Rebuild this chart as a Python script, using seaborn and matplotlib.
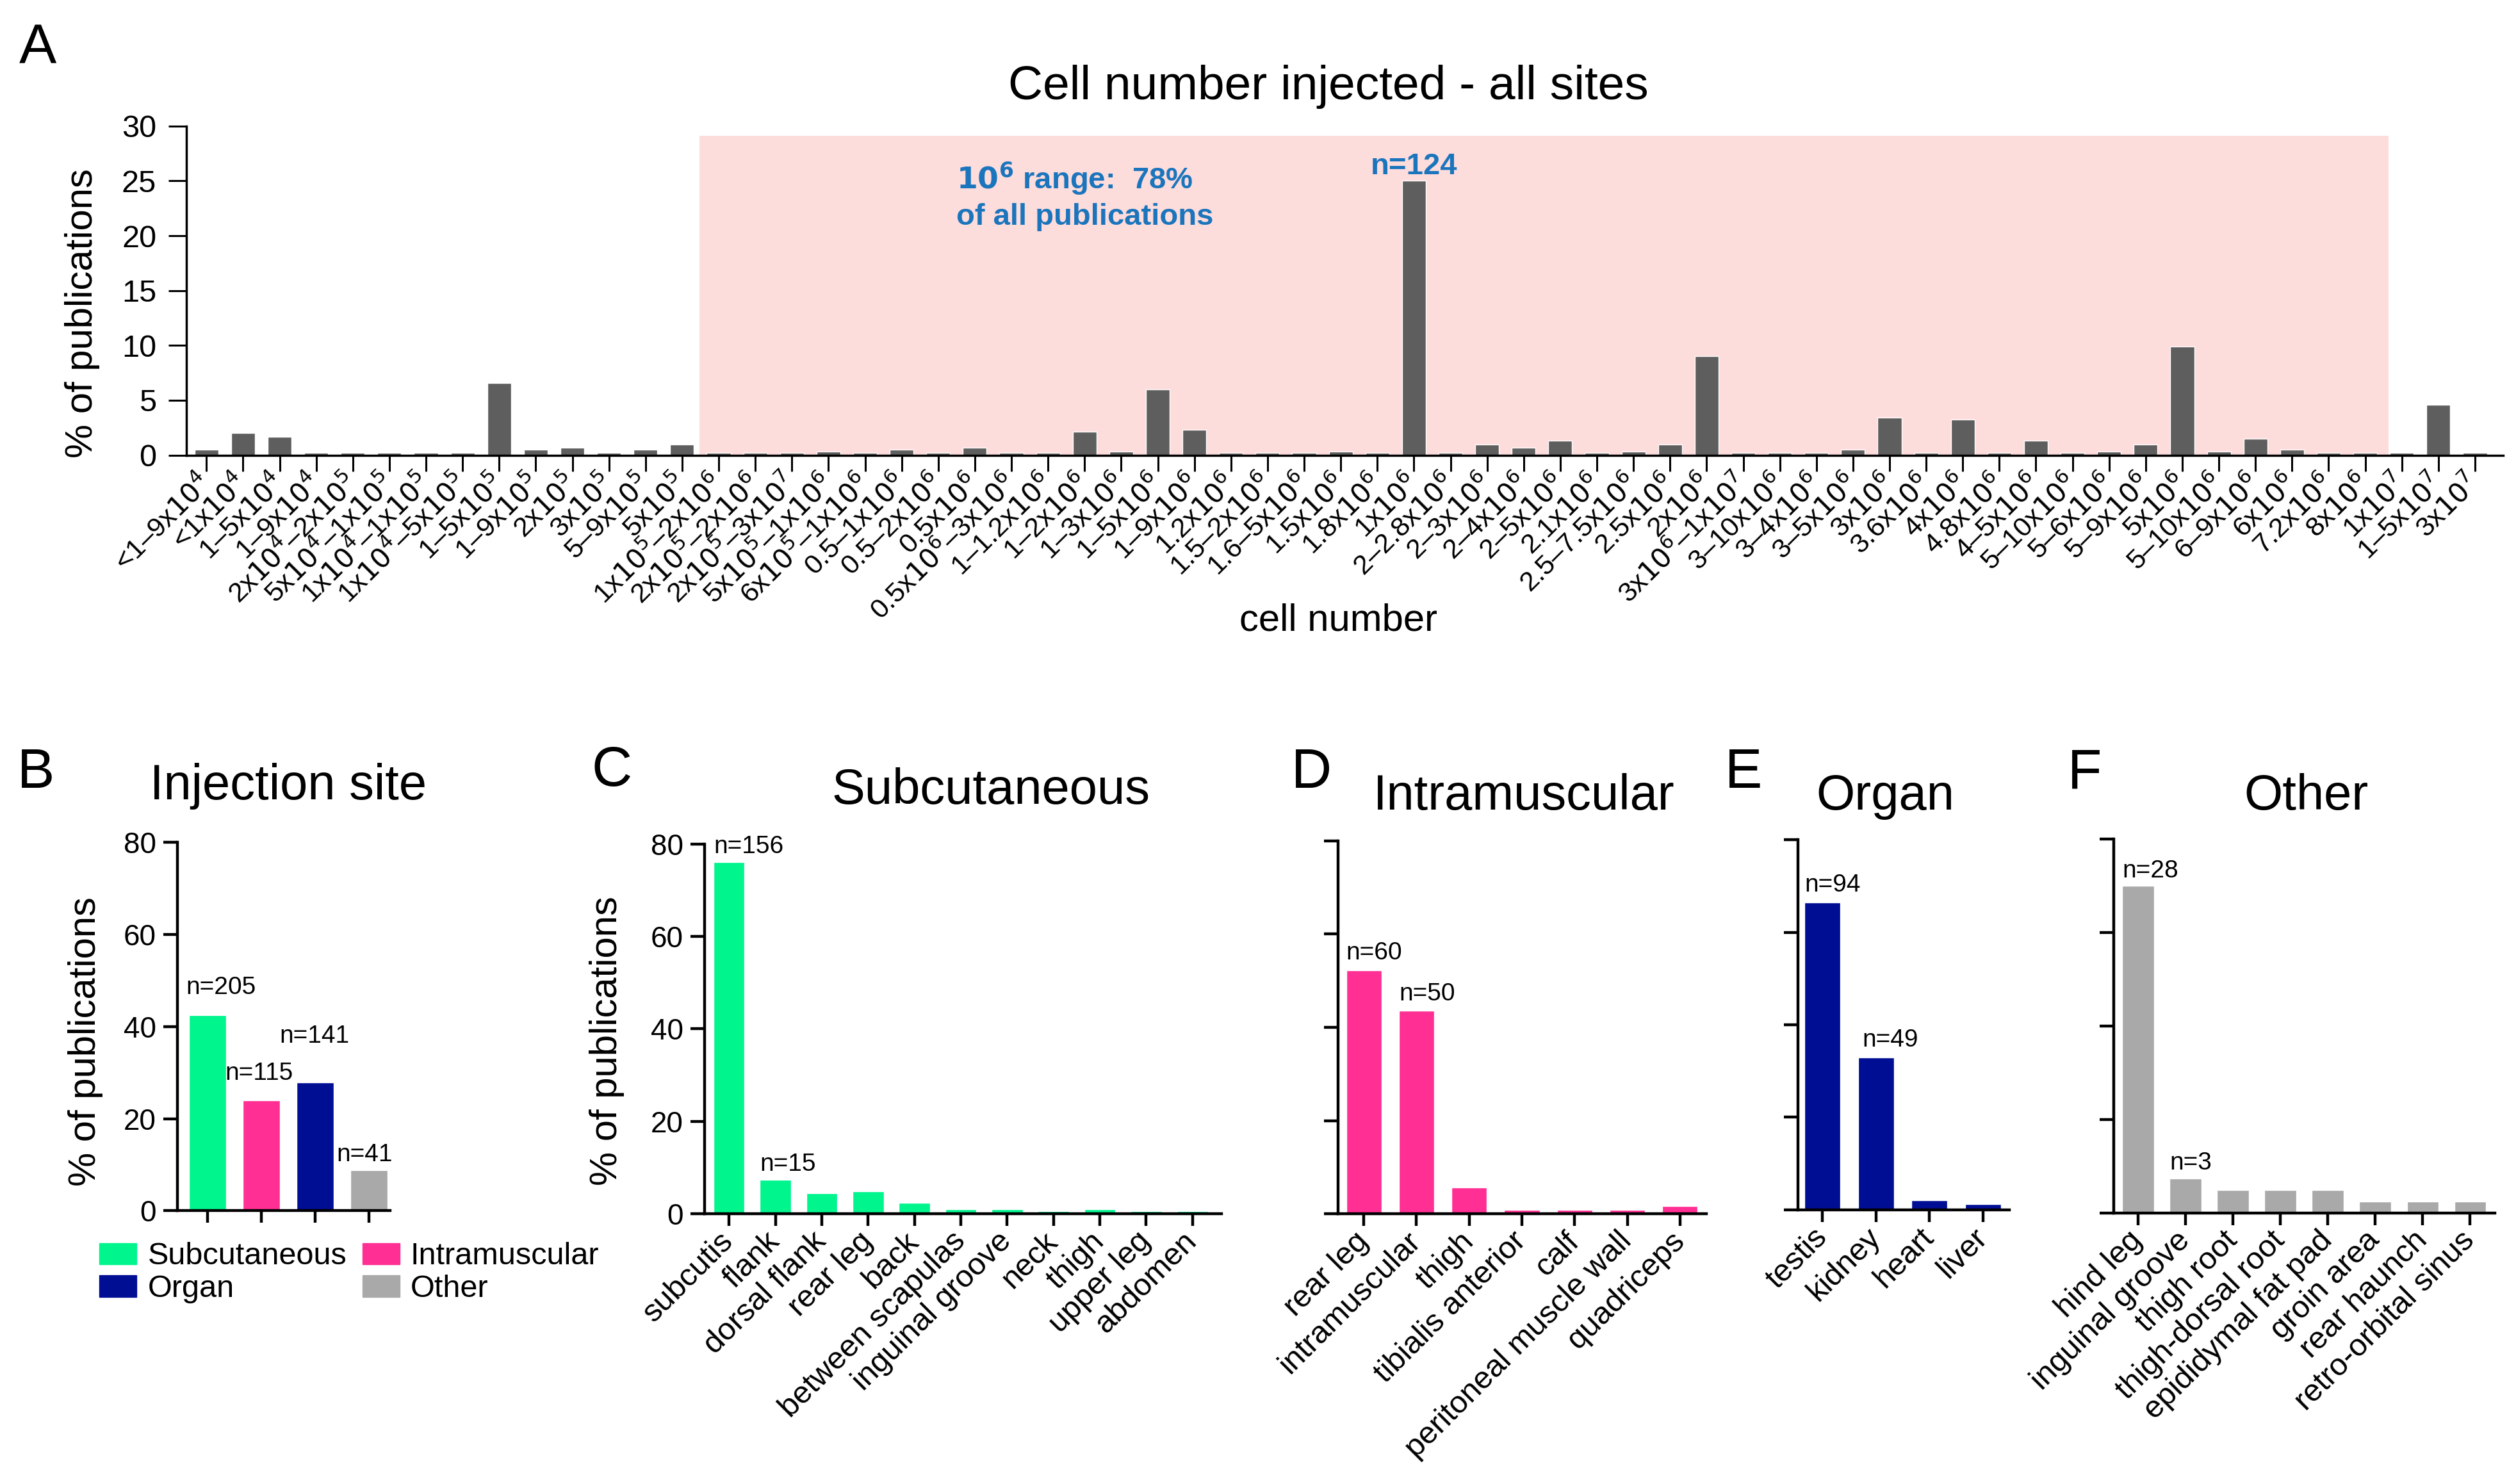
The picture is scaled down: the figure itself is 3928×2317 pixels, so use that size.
import seaborn as sns
import matplotlib.pyplot as plt
from matplotlib.patches import Patch
import numpy as np

# ---------------- data ----------------
cell_labels = [
    '<1–9x$10^{4}$', '<1x$10^{4}$', '1–5x$10^{4}$', '1–9x$10^{4}$',
    '2x$10^{4}$–2x$10^{5}$', '5x$10^{4}$–1x$10^{5}$', '1x$10^{4}$–1x$10^{5}$', '1x$10^{4}$–5x$10^{5}$',
    '1–5x$10^{5}$', '1–9x$10^{5}$', '2x$10^{5}$', '3x$10^{5}$', '5–9x$10^{5}$', '5x$10^{5}$',
    '1x$10^{5}$–2x$10^{6}$', '2x$10^{5}$–2x$10^{6}$', '2x$10^{5}$–3x$10^{7}$', '5x$10^{5}$–1x$10^{6}$',
    '6x$10^{5}$–1x$10^{6}$',
    '0.5–1x$10^{6}$', '0.5–2x$10^{6}$', '0.5x$10^{6}$', '0.5x$10^{6}$–3x$10^{6}$',
    '1–1.2x$10^{6}$', '1–2x$10^{6}$', '1–3x$10^{6}$', '1–5x$10^{6}$', '1–9x$10^{6}$', '1.2x$10^{6}$',
    '1.5–2x$10^{6}$', '1.6–5x$10^{6}$', '1.5x$10^{6}$', '1.8x$10^{6}$', '1x$10^{6}$',
    '2–2.8x$10^{6}$', '2–3x$10^{6}$', '2–4x$10^{6}$', '2–5x$10^{6}$', '2.1x$10^{6}$', '2.5–7.5x$10^{6}$',
    '2.5x$10^{6}$', '2x$10^{6}$',
    '3x$10^{6}$–1x$10^{7}$', '3–10x$10^{6}$', '3–4x$10^{6}$', '3–5x$10^{6}$', '3x$10^{6}$', '3.6x$10^{6}$',
    '4x$10^{6}$', '4.8x$10^{6}$', '4–5x$10^{6}$',
    '5–10x$10^{6}$', '5–6x$10^{6}$', '5–9x$10^{6}$', '5x$10^{6}$', '5–10x$10^{6}$', '6–9x$10^{6}$',
    '6x$10^{6}$', '7.2x$10^{6}$', '8x$10^{6}$',
    '1x$10^{7}$', '1–5x$10^{7}$', '3x$10^{7}$']
cell_pct = [
    0.5, 2.0, 1.7, 0.2,
    0.2, 0.2, 0.2, 0.2,
    6.6, 0.5, 0.7, 0.2, 0.5, 0.95,
    0.2, 0.2, 0.2, 0.35,
    0.2,
    0.5, 0.2, 0.7, 0.2,
    0.2, 2.15, 0.35, 6.0, 2.3, 0.2,
    0.2, 0.2, 0.35, 0.2, 25.0,
    0.2, 0.95, 0.7, 1.3, 0.2, 0.35,
    0.95, 9.0,
    0.2, 0.2, 0.2, 0.5, 3.4, 0.2,
    3.25, 0.2, 1.3,
    0.2, 0.35, 0.95, 9.9, 0.35, 1.5,
    0.5, 0.2, 0.2,
    0.2, 4.6, 0.2]

site_labels = ['Subcutaneous', 'Intramuscular', 'Organ', 'Other']
site_pct = [42.5, 24.0, 27.9, 8.8]
site_n = ['n=205', 'n=115', 'n=141', 'n=41']

subq_labels = ['subcutis', 'flank', 'dorsal flank', 'rear leg', 'back', 'between scapulas',
               'inguinal groove', 'neck', 'thigh', 'upper leg', 'abdomen']
subq_pct = [76.1, 7.3, 4.4, 4.9, 2.4, 1.0, 1.0, 0.5, 1.0, 0.5, 0.5]
subq_n = ['n=156', 'n=15']

im_labels = ['rear leg', 'intramuscular', 'thigh', 'tibialis anterior', 'calf',
             'peritoneal muscle wall', 'quadriceps']
im_pct = [52.2, 43.5, 5.7, 0.9, 0.9, 0.9, 1.7]
im_n = ['n=60', 'n=50']

organ_labels = ['testis', 'kidney', 'heart', 'liver']
organ_pct = [66.5, 33.0, 2.0, 1.2]
organ_n = ['n=94', 'n=49']

other_labels = ['hind leg', 'inguinal groove', 'thigh root', 'thigh-dorsal root',
                'epididymal fat pad', 'groin area', 'rear haunch', 'retro-orbital sinus']
other_pct = [70.0, 7.3, 4.9, 4.9, 4.9, 2.4, 2.4, 2.4]
other_n = ['n=28', 'n=3']

site_colors = ['#00f58d', '#ff2f94', '#000e93', '#a9a9a9']

# ---------------- style ----------------
sns.set_style("ticks")
plt.rcParams['font.family'] = ['Liberation Sans', 'DejaVu Sans']
plt.rcParams['mathtext.fontset'] = 'custom'
plt.rcParams['mathtext.rm'] = 'Liberation Sans Narrow'
plt.rcParams['mathtext.bf'] = 'Liberation Sans Narrow:bold'
for key in ['text.color', 'axes.labelcolor', 'xtick.color', 'ytick.color', 'axes.edgecolor']:
    plt.rcParams[key] = 'black'
NARROW = ['Liberation Sans Narrow', 'Liberation Sans']

fig = plt.figure(figsize=(39.28, 23.17), dpi=100)

# ---------------- panel A ----------------
axA = fig.add_axes([0.0742, 0.6933, 0.9207, 0.2218])
xpos = np.arange(len(cell_pct))
axA.axvspan(13.47, 59.63, ymin=0, ymax=29.1 / 30, color='#fddcdc', zorder=0, lw=0)
sns.barplot(x=xpos, y=cell_pct, color='#5e5e5e', saturation=1, width=0.65, ax=axA, zorder=2)
axA.set_xlim(-0.54, 62.77)
axA.set_ylim(0, 30)
axA.set_yticks([0, 5, 10, 15, 20, 25, 30])
axA.set_xticks(xpos)
axA.set_xticklabels(cell_labels, rotation=45, ha='right', va='center',
                    rotation_mode='anchor', family=NARROW, fontsize=31)
for lab in axA.get_yticklabels():
    lab.set_family(NARROW)
axA.tick_params(axis='y', labelsize=35, length=20, width=2.2, pad=14)
axA.tick_params(axis='x', length=18, width=2.2, pad=9)
axA.set_xlabel('')
sns.despine(ax=axA)
for s in ['left', 'bottom']:
    axA.spines[s].set_linewidth(2.5)

axA.text(33, 25.6, 'n=124', ha='center', va='baseline', color='#1b75bc',
         fontsize=34, fontweight='bold', family=NARROW)
axA.text(20.5, 24.3, r'$\mathbf{10^{6}}$ range:  78%', ha='left', va='baseline',
         color='#1b75bc', fontsize=34, fontweight='bold', family=NARROW)
axA.text(20.5, 21.0, 'of all publications', ha='left', va='baseline',
         color='#1b75bc', fontsize=34, fontweight='bold', family=NARROW)

fig.text(0.528, 0.933, 'Cell number injected - all sites', ha='center', va='baseline', fontsize=54)
fig.text(0.532, 0.575, 'cell number', ha='center', va='baseline', fontsize=43)
fig.text(0.0326, 0.789, '% of publications', ha='center', va='center', rotation=90, fontsize=43)


# ---------------- panels B-F ----------------
def bar_panel(rect, labels, values, color, xlim, yticklabels=True):
    ax = fig.add_axes(rect)
    sns.barplot(x=labels, y=values, color=color, saturation=1, width=0.67, ax=ax)
    ax.set_ylim(0, 80)
    ax.set_yticks([0, 20, 40, 60, 80])
    ax.set_xlim(*xlim)
    ax.set_xlabel('')
    ax.set_ylabel('')
    sns.despine(ax=ax)
    for s in ['left', 'bottom']:
        ax.spines[s].set_linewidth(3.2)
    ax.tick_params(axis='y', labelsize=33, length=16, width=3.2, pad=8)
    ax.tick_params(axis='x', labelsize=35, length=14, width=3.2, pad=12)
    plt.setp(ax.get_xticklabels(), rotation=45, ha='right', va='center', rotation_mode='anchor')
    if not yticklabels:
        ax.set_yticklabels([])
    return ax


def n_labels(ax, values, texts, dx=None, dy=None):
    for i, t in enumerate(texts):
        ox = 0 if dx is None else dx[i]
        oy = 2.0 if dy is None else dy[i]
        ax.text(i - 0.335 + ox, values[i] + oy, t, ha='left', va='baseline', fontsize=28)


axB = fig.add_axes([0.0705, 0.1841, 0.0845, 0.2484])
sns.barplot(x=site_labels, y=site_pct, hue=site_labels, palette=site_colors,
            saturation=1, width=0.68, legend=False, ax=axB)
axB.set_ylim(0, 80)
axB.set_yticks([0, 20, 40, 60, 80])
axB.set_xlim(-0.56, 3.39)
axB.set_xlabel('')
axB.set_ylabel('')
axB.set_xticklabels([])
sns.despine(ax=axB)
for s in ['left', 'bottom']:
    axB.spines[s].set_linewidth(3.2)
axB.tick_params(axis='y', labelsize=33, length=16, width=3.2, pad=8)
axB.tick_params(axis='x', length=14, width=3.2)
n_labels(axB, site_pct, site_n, dx=[-0.06, -0.34, -0.33, -0.27], dy=[4.5, 4.4, 8.6, 2.0])

axC = bar_panel([0.2800, 0.1821, 0.2054, 0.2491], subq_labels, subq_pct, site_colors[0], (-0.53, 10.62))
n_labels(axC, subq_pct, subq_n)
axD = bar_panel([0.5318, 0.1821, 0.1464, 0.2513], im_labels, im_pct, site_colors[1], (-0.49, 6.5),
                yticklabels=False)
n_labels(axD, im_pct, im_n, dy=[2.4, 2.2])
axE = bar_panel([0.7146, 0.1848, 0.0841, 0.2492], organ_labels, organ_pct, site_colors[2], (-0.46, 3.5),
                yticklabels=False)
n_labels(axE, organ_pct, organ_n, dx=[0, 0.08], dy=[2.3, 2.3])
axF = bar_panel([0.8401, 0.1827, 0.1515, 0.2519], other_labels, other_pct, site_colors[3], (-0.51, 7.52),
                yticklabels=False)
n_labels(axF, other_pct, other_n, dy=[1.8, 2.0])

# titles and y labels
fig.text(0.1145, 0.4615, 'Injection site', ha='center', va='baseline', fontsize=56)
fig.text(0.3939, 0.4584, 'Subcutaneous', ha='center', va='baseline', fontsize=56)
fig.text(0.6057, 0.4546, 'Intramuscular', ha='center', va='baseline', fontsize=56)
fig.text(0.7492, 0.4546, 'Organ', ha='center', va='baseline', fontsize=56)
fig.text(0.9165, 0.4546, 'Other', ha='center', va='baseline', fontsize=56)
fig.text(0.0339, 0.298, '% of publications', ha='center', va='center', rotation=90, fontsize=43)
fig.text(0.2413, 0.2986, '% of publications', ha='center', va='center', rotation=90, fontsize=43)

# panel letters
for letter, x, y in [('A', 0.0077, 0.957), ('B', 0.0069, 0.469), ('C', 0.2352, 0.4704),
                     ('D', 0.5132, 0.469), ('E', 0.6855, 0.469), ('F', 0.8218, 0.469)]:
    fig.text(x, y, letter, ha='left', va='baseline', fontsize=63)

# legend for panel B
handles = [Patch(color=site_colors[0], label='Subcutaneous'),
           Patch(color=site_colors[2], label='Organ'),
           Patch(color=site_colors[1], label='Intramuscular'),
           Patch(color=site_colors[3], label='Other')]
fig.legend(handles=handles, ncol=2, loc='upper left', bbox_to_anchor=(0.0395, 0.163),
           frameon=False, fontsize=35, handlelength=1.2, handleheight=0.68,
           handletextpad=0.35, columnspacing=0.5, labelspacing=0.12, borderpad=0, borderaxespad=0)

plt.savefig('out.png', dpi=100, facecolor='white')
plt.close()
